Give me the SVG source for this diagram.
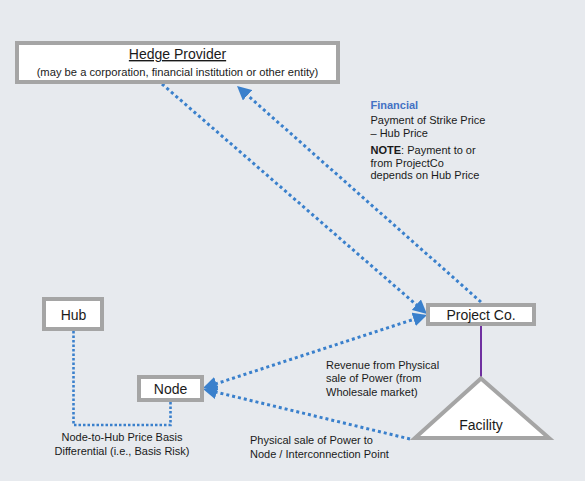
<svg xmlns="http://www.w3.org/2000/svg" width="585" height="481" viewBox="0 0 585 481">
<defs>
<style>
.box{fill:#ffffff;stroke:#a5a5a5;stroke-width:4}
.t{font-family:"Liberation Sans",Arial,sans-serif;fill:#1a1a1a}
.big{font-size:14px}
.sm{font-size:11px}
.dot{fill:none;stroke:#3a80cc;stroke-width:3;stroke-dasharray:3 3}
.dot2{fill:none;stroke:#3a80cc;stroke-width:2.6;stroke-dasharray:2.5 2}
</style>
<marker id="arr" markerUnits="userSpaceOnUse" viewBox="0 0 14 14" markerWidth="14" markerHeight="14" refX="4" refY="7" orient="auto-start-reverse">
<path d="M0,0 L14,7 L0,14 z" fill="#3a80cc"/>
</marker>
</defs>
<rect width="585" height="481" fill="#e7eaee"/>

<g id="connectors">
<path class="dot" d="M162,84 L419.4,307.4" marker-end="url(#arr)"/>
<path class="dot" d="M481,302 L244.5,92.6" marker-end="url(#arr)"/>
<path class="dot" d="M417.5,318.1 L212.5,384.9" marker-start="url(#arr)" marker-end="url(#arr)"/>
<path class="dot" d="M410,439 L212.7,391.3" marker-end="url(#arr)"/>
<path class="dot2" d="M73.5,331 L73.5,425 L170.5,425 L170.5,402"/>
<line x1="481" y1="326" x2="481" y2="377" stroke="#7030a0" stroke-width="2"/>
</g>

<g id="hedge-provider">
<rect class="box" x="17" y="43" width="321" height="39"/>
<text class="t big" x="177.5" y="59" text-anchor="middle" text-decoration="underline">Hedge Provider</text>
<text class="t" x="177.5" y="75.5" text-anchor="middle" font-size="11.2">(may be a corporation, financial institution or other entity)</text>
</g>

<g id="project-co">
<rect class="box" x="428" y="305" width="106" height="19"/>
<text class="t big" x="481" y="320" text-anchor="middle">Project Co.</text>
</g>

<g id="hub">
<rect class="box" x="44" y="299" width="58" height="30"/>
<text class="t big" x="73.5" y="319.5" text-anchor="middle">Hub</text>
</g>

<g id="node">
<rect class="box" x="139" y="377" width="63" height="23"/>
<text class="t big" x="170.5" y="394" text-anchor="middle">Node</text>
</g>

<g id="facility">
<path d="M481,378.5 L549,438 L415,438 Z" fill="#ffffff" stroke="#a5a5a5" stroke-width="4"/>
<text class="t big" x="481" y="429.5" text-anchor="middle">Facility</text>
</g>

<g id="labels">
<text class="t sm" x="370.5" y="108.5" font-weight="bold" style="fill:#4472c4">Financial</text>
<text class="t sm" x="370.5" y="124">Payment of Strike Price</text>
<text class="t sm" x="370.5" y="137">– Hub Price</text>
<text class="t sm" x="370.5" y="154"><tspan font-weight="bold">NOTE</tspan>: Payment to or</text>
<text class="t sm" x="370.5" y="166.5">from ProjectCo</text>
<text class="t sm" x="370.5" y="179">depends on Hub Price</text>

<text class="t sm" x="326" y="368.5">Revenue from Physical</text>
<text class="t sm" x="326" y="382">sale of Power (from</text>
<text class="t sm" x="326" y="395.5">Wholesale market)</text>

<text class="t sm" x="250" y="444">Physical sale of Power to</text>
<text class="t sm" x="250" y="457.5">Node / Interconnection Point</text>

<text class="t sm" x="122" y="441" text-anchor="middle">Node-to-Hub Price Basis</text>
<text class="t sm" x="122" y="454.5" text-anchor="middle">Differential (i.e., Basis Risk)</text>
</g>
</svg>
